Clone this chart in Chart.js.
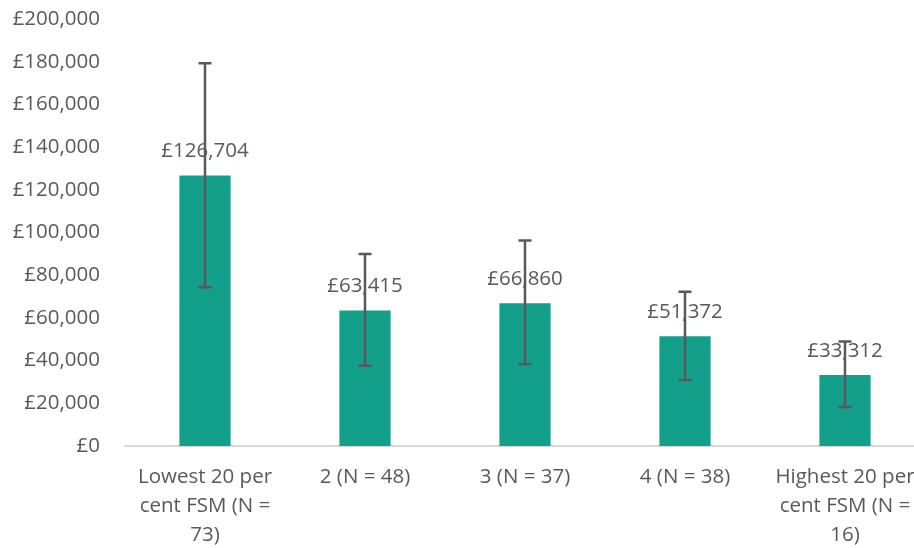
<!DOCTYPE html>
<html>
<head>
<meta charset="utf-8">
<script src="https://cdn.jsdelivr.net/npm/chart.js@4/dist/chart.umd.min.js"></script>
<style>
  html, body { margin: 0; padding: 0; background: #fff; overflow: hidden; }
  #wrap { width: 940px; height: 548px; position: relative; }
</style>
</head>
<body>
<div id="wrap"><canvas id="c"></canvas></div>
<script>
const categories = [
  ["Lowest 20 per", "cent FSM (N =", "73)"],
  ["2 (N = 48)"],
  ["3 (N = 37)"],
  ["4 (N = 38)"],
  ["Highest 20 per", "cent FSM (N =", "16)"]
];
const values = [126704, 63415, 66860, 51372, 33312];
const errorLow = [74300, 37600, 38300, 30900, 18300];
const errorHigh = [179300, 89900, 96200, 72300, 49000];
const yTicks = { min: 0, max: 200000, step: 20000 };

const TEXT = '#595959';
const FONT = "'Open Sans', sans-serif";
const fmt = v => '£' + Math.round(v).toLocaleString('en-GB');

const labelPlugin = {
  id: 'barLabels',
  afterDatasetsDraw(chart) {
    const ctx = chart.ctx;
    const meta = chart.getDatasetMeta(0);
    const ys = chart.scales.y;
    ctx.save();
    ctx.font = '20.5px ' + FONT;
    ctx.fillStyle = TEXT;
    ctx.textAlign = 'center';
    ctx.textBaseline = 'middle';
    meta.data.forEach((bar, i) => {
      ctx.fillText(fmt(values[i]), bar.x, ys.getPixelForValue(values[i]) - 24);
    });
    ctx.strokeStyle = '#595959';
    ctx.lineWidth = 2.5;
    meta.data.forEach((bar, i) => {
      const yh = ys.getPixelForValue(errorHigh[i]);
      const yl = ys.getPixelForValue(errorLow[i]);
      const x = Math.round(bar.x);
      ctx.beginPath();
      ctx.moveTo(x, yh); ctx.lineTo(x, yl);
      ctx.moveTo(x - 6.5, yh); ctx.lineTo(x + 6.5, yh);
      ctx.moveTo(x - 6.5, yl); ctx.lineTo(x + 6.5, yl);
      ctx.stroke();
    });
    ctx.restore();
  }
};

new Chart(document.getElementById('c'), {
  type: 'bar',
  data: {
    labels: categories,
    datasets: [{
      data: values,
      backgroundColor: '#12A08A',
      borderWidth: 0,
      barPercentage: 0.32,
      categoryPercentage: 1.0
    }]
  },
  options: {
    responsive: true,
    maintainAspectRatio: false,
    animation: false,
    layout: { padding: { top: 0, right: 15, bottom: 0, left: 0 } },
    plugins: { legend: { display: false }, tooltip: { enabled: false } },
    scales: {
      x: {
        grid: { display: false },
        border: { display: true, color: '#D9D9D9', width: 2 },
        ticks: {
          color: TEXT,
          font: { family: FONT, size: 20.5, lineHeight: 1.41 },
          padding: 9,
          maxRotation: 0,
          autoSkip: false
        },
        afterFit(s) { s.height = 102; }
      },
      y: {
        min: yTicks.min,
        max: yTicks.max,
        grid: { display: false, drawTicks: false },
        border: { display: false },
        ticks: {
          stepSize: yTicks.step,
          color: TEXT,
          font: { family: FONT, size: 20.5 },
          padding: 25,
          callback: v => fmt(v)
        },
        afterFit(s) { s.width = 125; s.paddingTop = 19; s.paddingBottom = 0; }
      }
    }
  },
  plugins: [labelPlugin]
});
</script>
</body>
</html>
